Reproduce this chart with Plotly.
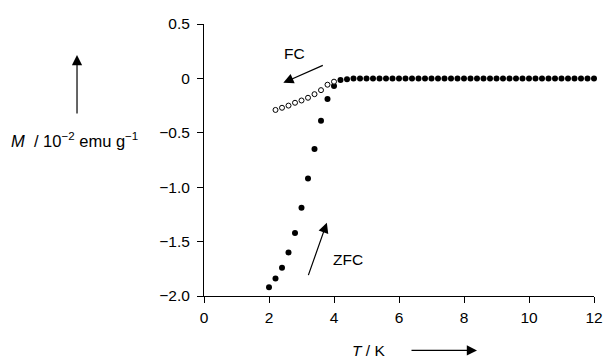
import plotly.graph_objects as go

# ZFC data (filled dots)
zfc_T = [2.0, 2.2, 2.4, 2.6, 2.8, 3.0, 3.2, 3.4, 3.6, 3.8, 4.0, 4.2, 4.4,
         4.6, 4.8, 5.0, 5.2, 5.4, 5.6, 5.8, 6.0, 6.2, 6.4, 6.6, 6.8, 7.0,
         7.2, 7.4, 7.6, 7.8, 8.0, 8.2, 8.4, 8.6, 8.8, 9.0, 9.2, 9.4, 9.6,
         9.8, 10.0, 10.2, 10.4, 10.6, 10.8, 11.0, 11.2, 11.4, 11.6, 11.8, 12.0]
zfc_M = [-1.92, -1.84, -1.74, -1.60, -1.42, -1.19, -0.92, -0.65, -0.39, -0.19,
         -0.07, -0.015, -0.008,
         0, 0, 0, 0, 0, 0, 0, 0, 0, 0, 0, 0, 0, 0, 0, 0, 0, 0, 0, 0, 0,
         0, 0, 0, 0, 0, 0, 0, 0, 0, 0, 0, 0, 0, 0, 0, 0, 0]

# FC data (open circles)
fc_T = [2.2, 2.4, 2.6, 2.8, 3.0, 3.2, 3.4, 3.6, 3.8, 4.0]
fc_M = [-0.29, -0.27, -0.25, -0.224, -0.203, -0.178, -0.145, -0.108, -0.058, -0.03]

# axis ticks
x_ticks = [0, 2, 4, 6, 8, 10, 12]
y_ticks = [0.5, 0, -0.5, -1.0, -1.5, -2.0]
y_ticktext = ["0.5", "0", "\u22120.5", "\u22121.0", "\u22121.5", "\u22122.0"]

FONT = "Liberation Sans, Arial, Helvetica, sans-serif"
FS = 15.5

fig = go.Figure()
fig.add_trace(go.Scatter(
    x=zfc_T, y=zfc_M, mode="markers", cliponaxis=False,
    marker=dict(symbol="circle", size=6, color="black"),
    showlegend=False))
fig.add_trace(go.Scatter(
    x=fc_T, y=fc_M, mode="markers", cliponaxis=False,
    marker=dict(symbol="circle", size=5, color="white",
                line=dict(color="black", width=1)),
    showlegend=False))

fig.update_layout(
    width=606, height=359,
    margin=dict(l=204, r=12, t=24, b=63, autoexpand=False),
    paper_bgcolor="white", plot_bgcolor="white",
    font=dict(family=FONT, size=FS, color="black"),
    xaxis=dict(range=[0, 12], tickvals=x_ticks, showline=True, linecolor="black",
               linewidth=1, ticks="outside", ticklen=6, tickcolor="black",
               showgrid=False, zeroline=False, tickfont=dict(size=FS),
               ticklabelstandoff=1, automargin=False),
    yaxis=dict(range=[-2.0, 0.5], tickvals=y_ticks, ticktext=y_ticktext,
               showline=True, linecolor="black", linewidth=1, ticks="outside",
               ticklen=6, tickcolor="black", showgrid=False, zeroline=False,
               tickfont=dict(size=FS), ticklabelstandoff=4, automargin=False),
)

AH = dict(arrowhead=2, arrowsize=1.7, arrowwidth=1.2, arrowcolor="black",
          standoff=0)
ann = []
# FC label + arrow
ann.append(dict(x=2.77, y=0.233, xref="x", yref="y", text="FC", showarrow=False,
                font=dict(size=FS)))
ann.append(dict(x=2.44, y=-0.04, xref="x", yref="y", text="", showarrow=True,
                ax=41, ay=-18, **AH))
# ZFC label + arrow
ann.append(dict(x=4.43, y=-1.66, xref="x", yref="y", text="ZFC", showarrow=False,
                font=dict(size=FS)))
ann.append(dict(x=3.78, y=-1.326, xref="x", yref="y", text="", showarrow=True,
                ax=-19, ay=54, **AH))
# y-axis label + arrow
ann.append(dict(x=-0.331, y=0.573, xref="paper", yref="paper",
                text="<i>M</i>&nbsp;&nbsp;/ 10<sup>\u22122</sup> emu g<sup>\u22121</sup>",
                showarrow=False, xanchor="center", yanchor="middle",
                font=dict(size=16.5)))
ann.append(dict(x=-0.3256, y=0.886, xref="paper", yref="paper", text="",
                showarrow=True, ax=0, ay=60, **AH))
# x-axis label + arrow
ann.append(dict(x=0.423, y=-0.2, xref="paper", yref="paper",
                text="<i>T</i> / K", showarrow=False, xanchor="center",
                yanchor="middle", font=dict(size=FS)))
ann.append(dict(x=0.70, y=-0.2, xref="paper", yref="paper", text="",
                showarrow=True, ax=-67, ay=0, **AH))
fig.update_layout(annotations=ann)

fig.write_html(
    "out.html",
    config={"displayModeBar": False},
    post_script="document.body.style.margin='0';document.body.style.overflow='hidden';",
)
